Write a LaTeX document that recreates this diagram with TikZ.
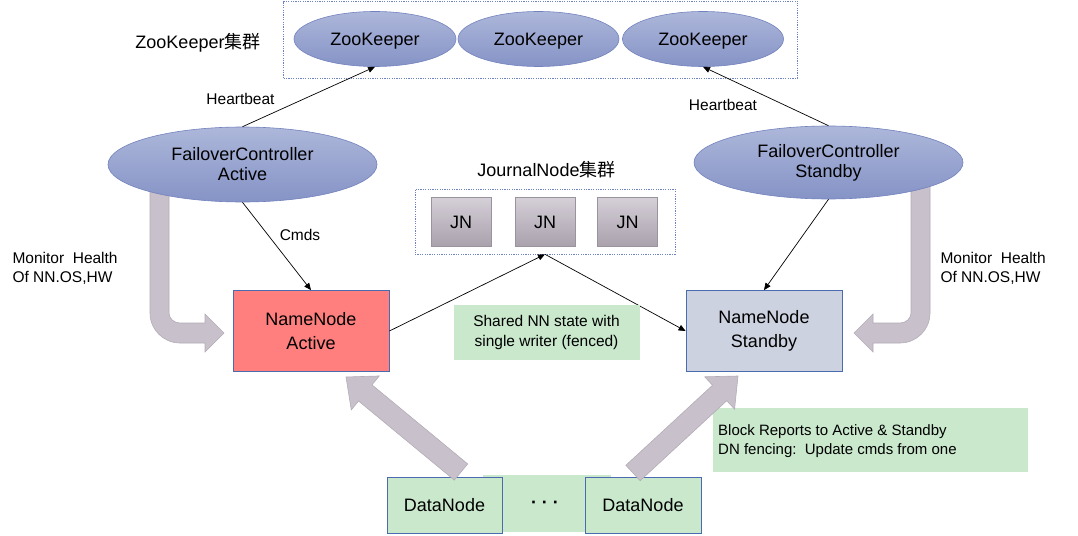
\documentclass[tikz,border=0pt]{standalone}
\usepackage{fontspec}
\setmainfont{Liberation Sans}
\newfontfamily\cjk{Noto Sans CJK SC}
\usetikzlibrary{shapes.geometric,arrows.meta,calc}
\definecolor{ellTop}{HTML}{ADB7DA}
\definecolor{ellBot}{HTML}{8593C6}
\definecolor{ellDraw}{HTML}{7282BD}
\definecolor{dashBlue}{HTML}{6F82C0}
\definecolor{jnTop}{HTML}{D5CFD8}
\definecolor{jnBot}{HTML}{A9A1AC}
\definecolor{jnDraw}{HTML}{9A929D}
\definecolor{nnRed}{HTML}{FF7F7F}
\definecolor{nnGray}{HTML}{CCD2E0}
\definecolor{boxBlue}{HTML}{4A6BAF}
\definecolor{noteGreen}{HTML}{C9E8CC}
\definecolor{fatFill}{HTML}{C8C1CB}
\definecolor{fatDraw}{HTML}{B3ABB6}
\newcommand\fatarrow[5]{% tail, tip, shaft half width, head half width, head length
  \coordinate (fa-base) at ($(#2)!#5!(#1)$);
  \path[fatarr] ($(#1)!#3!90:(#2)$) -- ($(fa-base)!#3!90:(#2)$) -- ($(fa-base)!#4!90:(#2)$)
    -- (#2) -- ($(fa-base)!#4!-90:(#2)$) -- ($(fa-base)!#3!-90:(#2)$) -- ($(#1)!#3!-90:(#2)$) -- cycle;
}
\begin{document}
\begin{tikzpicture}[x=1pt,y=-1pt,
  every node/.style={font=\fontsize{18}{21}\selectfont},
  small/.style={font=\fontsize{15.5}{19}\selectfont},
  zkell/.style={ellipse, top color=ellTop, bottom color=ellBot, draw=ellDraw, line width=0.6pt, inner sep=0pt},
  cluster/.style={draw=dashBlue, dash pattern=on 1.2pt off 1.2pt, line width=0.6pt, inner sep=0pt},
  jnbox/.style={rectangle, top color=jnTop, bottom color=jnBot, draw=jnDraw, line width=0.6pt, minimum width=60pt, minimum height=49pt, inner sep=0pt},
  nnbox/.style={rectangle, draw=boxBlue, line width=0.8pt, minimum width=156pt, minimum height=81pt, inner sep=0pt, align=center},
  dnbox/.style={rectangle, fill=noteGreen, draw=boxBlue, line width=0.8pt, minimum height=56pt, inner sep=0pt},
  note/.style={rectangle, fill=noteGreen, inner sep=0pt},
  thinarrow/.style={draw=black, line width=0.7pt, -{Triangle[length=7pt,width=6pt]}},
  fatarr/.style={fill=fatFill, draw=fatDraw, line width=0.6pt},
]
\useasboundingbox (0,0) rectangle (1078,535);

% ZooKeeper cluster
\node[cluster, minimum width=514pt, minimum height=77pt] (zkc) at (540.5,39.5) {};
\node[zkell, minimum width=162pt, minimum height=55pt, text depth=0pt] (zk1) at (375,39) {ZooKeeper};
\node[zkell, minimum width=161pt, minimum height=55pt, text depth=0pt] (zk2) at (538.5,39) {ZooKeeper};
\node[zkell, minimum width=161pt, minimum height=55pt, text depth=0pt] (zk3) at (703,39) {ZooKeeper};
\node (zklabel) at (198,43) {ZooKeeper{\cjk 集群}};

% Monitor fat arrows (drawn before the ellipses)
\path[fatarr] (150,185) -- (150,313) .. controls (150,329.6) and (163.4,343) .. (180,343)
  -- (205,343) -- (205,352) -- (224,333) -- (205,314) -- (205,323) -- (180,323)
  .. controls (174,323) and (169,318.5) .. (169,313) -- (169,185) -- cycle;
\path[fatarr] (930,185) -- (930,313) .. controls (930,329.6) and (916.6,343) .. (900,343)
  -- (873,343) -- (873,352) -- (854,333) -- (873,314) -- (873,323) -- (900,323)
  .. controls (906,323) and (911,318.5) .. (911,313) -- (911,185) -- cycle;

% Failover controllers
\node[zkell, minimum width=269pt, minimum height=75pt, align=center, font=\fontsize{18}{20}\selectfont] (fcA) at (242.5,164.5) {FailoverController\\Active};
\node[zkell, minimum width=269pt, minimum height=73pt, align=center, font=\fontsize{18}{20}\selectfont] (fcS) at (828.5,162.5) {FailoverController\\Standby};

\node[small] (hbA) at (240.5,99) {Heartbeat};
\node[small] (hbS) at (723,105) {Heartbeat};
\draw[thinarrow] (fcA.north) -- (zk1.south);
\draw[thinarrow] (fcS.north) -- (zk3.south);

% JournalNode cluster
\node (jnlabel) at (546.5,170) {JournalNode{\cjk 集群}};
\node[cluster, minimum width=260pt, minimum height=65pt] (jnc) at (545,221.5) {};
\node[jnbox] (jn1) at (461,222) {JN};
\node[jnbox] (jn2) at (545,222) {JN};
\node[jnbox] (jn3) at (627.5,222) {JN};

% NameNodes
\node[nnbox, fill=nnRed, font=\fontsize{18}{24}\selectfont] (nnA) at (311,331) {NameNode\\Active};
\node[nnbox, fill=nnGray, font=\fontsize{18}{24}\selectfont] (nnS) at (764,331) {NameNode\\Standby};

\node[small] (cmds) at (300,235) {Cmds};
\draw[thinarrow] (fcA.south) -- (nnA.north);
\draw[thinarrow] (fcS.south) -- (nnS.north);
\draw[thinarrow] (nnA.east) -- (jnc.south);
\draw[thinarrow] (jnc.south) -- (nnS.west);

\node[small, anchor=west, align=left, font=\fontsize{15.5}{19}\selectfont] (monA) at (9,268.5) {Monitor\ \ Health\\Of NN.OS,HW};
\node[small, anchor=west, align=left, font=\fontsize{15.5}{19}\selectfont] (monS) at (937,268.5) {Monitor\ \ Health\\Of NN.OS,HW};

% Shared state note
\node[note, minimum width=186pt, minimum height=55pt, align=center, font=\fontsize{15.5}{20}\selectfont] (shared) at (546.5,332.5) {Shared NN state with\\single writer (fenced)};

% Block reports note
\node[note, minimum width=315pt, minimum height=64pt] (block) at (870.5,440) {};
\node[anchor=west, align=left, inner sep=0pt, font=\fontsize{15}{19}\selectfont] (blocktext) at (718,441.5) {Block Reports to Active \& Standby\\DN fencing:\ \ Update cmds from one};

% DataNodes
\node[note, minimum width=128pt, minimum height=57pt] (dots) at (547,503.5) {};
\node[dnbox, minimum width=115pt] (dn1) at (444.5,505) {DataNode};
\node[dnbox, minimum width=116pt] (dn2) at (643,505) {DataNode};
\node[font=\fontsize{18}{21}\selectfont\bfseries] (dotstext) at (545,505) {· · ·};

% DataNode fat arrows
\coordinate (dlT) at (461,472);
\coordinate (dlP) at (346,377);
\coordinate (drT) at (633,473);
\coordinate (drP) at (738,376);
\fatarrow{dlT}{dlP}{10.5pt}{22pt}{25pt}
\fatarrow{drT}{drP}{10.5pt}{22pt}{25pt}
\end{tikzpicture}
\end{document}
